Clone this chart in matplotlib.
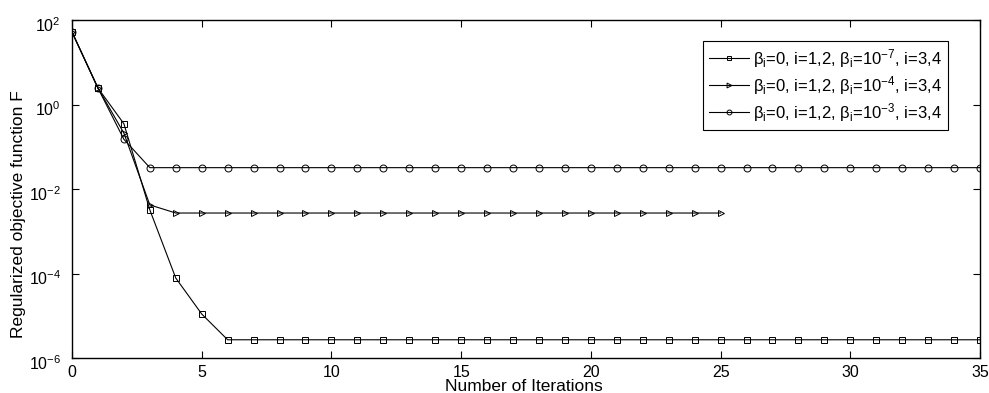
import matplotlib
matplotlib.use("Agg")
import matplotlib.pyplot as plt
from matplotlib.ticker import FixedLocator, NullLocator
from matplotlib.transforms import ScaledTranslation

plt.rcParams['font.family'] = ['Liberation Sans', 'DejaVu Sans']
plt.rcParams['mathtext.fontset'] = 'custom'
plt.rcParams['mathtext.rm'] = 'Liberation Sans'
plt.rcParams['mathtext.it'] = 'Liberation Sans'

# Data
iters_sq = list(range(0, 36))
vals_sq = [52, 2.45, 0.35, 3.2e-3, 7.8e-5, 1.1e-5] + [2.7e-6] * 30

iters_tri = list(range(0, 26))
vals_tri = [52, 2.45, 0.21, 4.2e-3] + [2.7e-3] * 22

iters_circ = list(range(0, 36))
vals_circ = [52, 2.45, 0.15] + [3.2e-2] * 33

xticks = [0, 5, 10, 15, 20, 25, 30, 35]
yticks = [1e-6, 1e-4, 1e-2, 1e0, 1e2]

labels = [r"$\mathregular{\beta_i}$=0, i=1,2, $\mathregular{\beta_i}$=10$^{\mathregular{-7}}$, i=3,4",
          r"$\mathregular{\beta_i}$=0, i=1,2, $\mathregular{\beta_i}$=10$^{\mathregular{-4}}$, i=3,4",
          r"$\mathregular{\beta_i}$=0, i=1,2, $\mathregular{\beta_i}$=10$^{\mathregular{-3}}$, i=3,4"]

fig = plt.figure(figsize=(9.89, 3.93), dpi=100)
ax = fig.add_axes([72/989, 1 - 358/393, (980-72)/989, (358-20)/393])

ms = 5
ax.plot(iters_sq, vals_sq, '-', color='black', lw=0.8, marker='s', ms=ms,
        mfc='none', mec='black', mew=0.7, label=labels[0])
ax.plot(iters_tri, vals_tri, '-', color='black', lw=0.8, marker='>', ms=ms,
        mfc='none', mec='black', mew=0.7, label=labels[1])
ax.plot(iters_circ, vals_circ, '-', color='black', lw=0.8, marker='o', ms=ms,
        mfc='none', mec='black', mew=0.7, label=labels[2])

ax.set_yscale('log')
ax.set_xlim(0, 35)
ax.set_ylim(1e-6, 1e2)
ax.set_xticks(xticks)
ax.yaxis.set_major_locator(FixedLocator(yticks))
ax.yaxis.set_minor_locator(NullLocator())
ax.tick_params(direction='in', top=True, right=True, length=5, width=0.8, labelsize=11.5)
ax.tick_params(axis='x', pad=5)
ax.tick_params(axis='y', pad=8)
for s in ax.spines.values():
    s.set_linewidth(1.0)

# shift y tick labels slightly down like the reference
off = ScaledTranslation(0, -4/100, fig.dpi_scale_trans)
for lab in ax.get_yticklabels():
    lab.set_transform(lab.get_transform() + off)

ax.set_xlabel("Number of Iterations", fontsize=12.5)
ax.xaxis.set_label_coords(0.498, -0.062)
ax.set_ylabel("Regularized objective function F", fontsize=12.5)
ax.yaxis.set_label_coords(-0.051, 0.426)

leg = ax.legend(loc='upper right', bbox_to_anchor=(0.9648, 0.938), fontsize=12,
                frameon=True, fancybox=False, edgecolor='black', framealpha=1,
                handlelength=2.4, handletextpad=0.25, borderpad=0.35, labelspacing=0.25,
                borderaxespad=0, markerscale=0.7)
leg.get_frame().set_linewidth(0.8)

fig.savefig("out.png", dpi=100)
